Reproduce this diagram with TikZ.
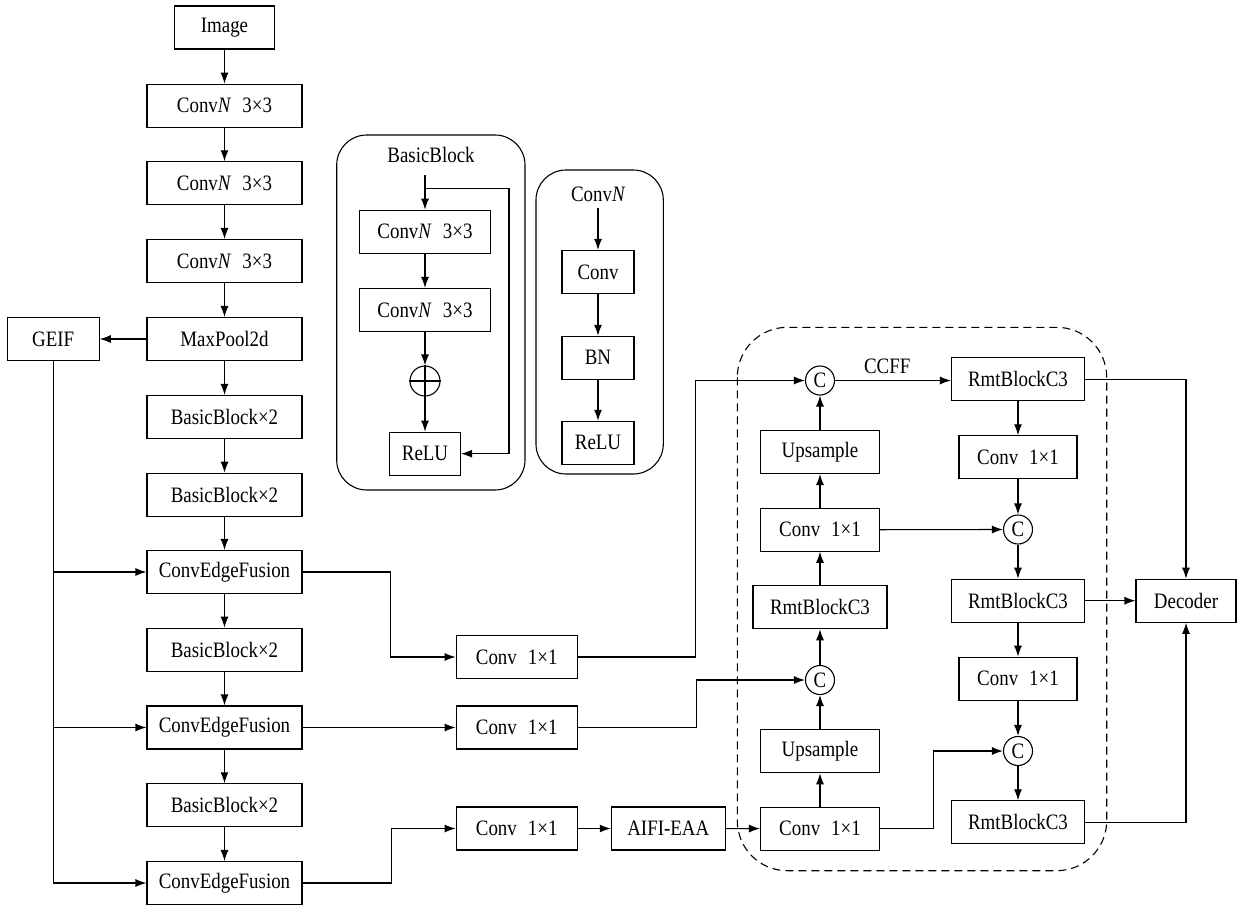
\documentclass[tikz,border=0pt]{standalone}
\usepackage{fontspec}
\setmainfont{Liberation Serif}[FakeStretch=0.86]
\usetikzlibrary{arrows.meta}
\newcommand\fsz{\fontsize{22}{26}\selectfont}
\newcommand\gap{\hspace{0.5em}}
\tikzset{
  bx/.style={draw, line width=1.1pt, inner sep=0pt, minimum height=43pt, font=\fsz},
  cc/.style={draw, circle, line width=1.1pt, minimum size=29pt, inner sep=0pt, font=\fsz},
  ar/.style={line width=1.1pt, -{Latex[length=11pt,width=8pt]}},
  ln/.style={line width=1.1pt},
  panel/.style={draw, rounded corners=30pt, line width=1.1pt},
  dsh/.style={draw, rounded corners=50pt, line width=1.1pt, dash pattern=on 8pt off 5pt},
  lbl/.style={font=\fsz, inner sep=0pt}
}
\begin{document}
\begin{tikzpicture}[x=1pt,y=-1pt]
\useasboundingbox (0,0) rectangle (1243,906);
% left column
\node[bx, minimum width=100pt] (img) at (224.5,27.5) {Image};
\node[bx, minimum width=155pt] (n1) at (224.5,105.7) {Conv\textit{N}\gap 3×3};
\node[bx, minimum width=155pt] (n2) at (224.5,183.3) {Conv\textit{N}\gap 3×3};
\node[bx, minimum width=155pt] (n3) at (224.5,261) {Conv\textit{N}\gap 3×3};
\node[bx, minimum width=155pt] (mp) at (224.5,339) {MaxPool2d};
\node[bx, minimum width=155pt] (bb1) at (224.5,417) {BasicBlock×2};
\node[bx, minimum width=155pt] (bb2) at (224.5,494.7) {BasicBlock×2};
\node[bx, minimum width=155pt] (cef1) at (224.5,572) {ConvEdgeFusion};
\node[bx, minimum width=155pt] (bb3) at (224.5,649.7) {BasicBlock×2};
\node[bx, minimum width=155pt] (cef2) at (224.5,727.5) {ConvEdgeFusion};
\node[bx, minimum width=155pt] (bb4) at (224.5,805.3) {BasicBlock×2};
\node[bx, minimum width=155pt] (cef3) at (224.5,883) {ConvEdgeFusion};
\node[bx, minimum width=92pt] (geif) at (53.2,339) {GEIF};
\foreach \a/\b in {img/n1,n1/n2,n2/n3,n3/mp,mp/bb1,bb1/bb2,bb2/cef1,cef1/bb3,bb3/cef2,cef2/bb4,bb4/cef3}
  \draw[ar] (\a) -- (\b);
\draw[ar] (mp) -- (geif);
\draw[ar] (geif.south) |- (cef3.west);
\draw[ar] (geif.south |- cef1.west) -- (cef1.west);
\draw[ar] (geif.south |- cef2.west) -- (cef2.west);
% middle conv 1x1
\node[bx, minimum width=121pt] (ca) at (516.7,657) {Conv\gap 1×1};
\node[bx, minimum width=121pt] (cb) at (516.7,727.5) {Conv\gap 1×1};
\node[bx, minimum width=121pt] (cc) at (516.7,828.5) {Conv\gap 1×1};
\node[bx, minimum width=114pt] (aifi) at (668.3,828.5) {AIFI-EAA};
\draw[ar] (cef1.east) -- ++(88,0) |- (ca.west);
\draw[ar] (cef2.east) -- (cb.west);
\draw[ar] (cef3.east) -- ++(89,0) |- (cc.west);
\draw[ar] (cc) -- (aifi);
% BasicBlock panel
\draw[panel] (336.7,135) rectangle (525,490);
\node[lbl] (bbt) at (431,155) {BasicBlock};
\coordinate (bs) at (425,175);
\coordinate (bj) at (425,188.3);
\node[bx, minimum width=131pt] (bc1) at (425,231.7) {Conv\textit{N}\gap 3×3};
\node[bx, minimum width=131pt] (bc2) at (425,310) {Conv\textit{N}\gap 3×3};
\node[draw, circle, line width=1.1pt, minimum size=30pt, inner sep=0pt] (plus) at (425,381) {};
\draw[ln] (plus.north) -- (plus.south);
\draw[ln] (plus.west) -- (plus.east);
\node[bx, minimum width=71pt] (brelu) at (425,453.7) {ReLU};
\draw[ar] (bs) -- (bc1);
\draw[ar] (bj) -- ++(84,0) |- (brelu.east);
\draw[ar] (bc1) -- (bc2);
\draw[ar] (bc2) -- (plus);
\draw[ar] (plus) -- (brelu);
% ConvN panel
\draw[panel] (536,170) rectangle (663.3,474);
\node[lbl] (cnt) at (598.3,194) {Conv\textit{N}};
\coordinate (cs) at (598,208);
\node[bx, minimum width=72pt] (pc) at (598,272) {Conv};
\node[bx, minimum width=72pt] (pbn) at (598,357.8) {BN};
\node[bx, minimum width=72pt] (prelu) at (598,442.8) {ReLU};
\draw[ar] (cs) -- (pc);
\draw[ar] (pc) -- (pbn);
\draw[ar] (pbn) -- (prelu);
% CCFF region
\draw[dsh] (737.3,327.3) rectangle (1106.7,870.7);
\node[bx, minimum width=119pt] (cbot) at (820,828.6) {Conv\gap 1×1};
\node[bx, minimum width=119pt] (ups2) at (820,751.3) {Upsample};
\node[cc] (c2) at (820,680) {C};
\node[bx, minimum width=134pt] (rmtl) at (820,607.2) {RmtBlockC3};
\node[bx, minimum width=119pt] (cmid) at (820,529.7) {Conv\gap 1×1};
\node[bx, minimum width=119pt] (ups1) at (820,452) {Upsample};
\node[cc] (c1) at (820,380.5) {C};
\node[bx, minimum width=133pt] (rmt1) at (1018,379.2) {RmtBlockC3};
\node[bx, minimum width=118pt] (cr1) at (1018,457.3) {Conv\gap 1×1};
\node[cc] (c3) at (1018,529.5) {C};
\node[bx, minimum width=133pt] (rmt2) at (1018,600.7) {RmtBlockC3};
\node[bx, minimum width=118pt] (cr2) at (1018,678.7) {Conv\gap 1×1};
\node[cc] (c4) at (1018,751) {C};
\node[bx, minimum width=133pt] (rmt3) at (1018,822.3) {RmtBlockC3};
\node[bx, minimum width=100pt] (dec) at (1186,600.7) {Decoder};
\draw[ar] (aifi) -- (cbot);
\draw[ar] (cbot) -- (ups2);
\draw[ar] (ups2) -- (c2);
\draw[ar] (c2) -- (rmtl);
\draw[ar] (rmtl) -- (cmid);
\draw[ar] (cmid) -- (ups1);
\draw[ar] (ups1) -- (c1);
\draw[ar] (ca.east) -- ++(118,0) |- (c1.west);
\draw[ar] (cb.east) -- ++(118.5,0) |- (c2.west);
\draw[ar] (c1.east) -- node[lbl, pos=0.45, above=6pt] {CCFF} (rmt1.west |- c1.east);
\draw[ar] (rmt1) -- (cr1);
\draw[ar] (cr1) -- (c3);
\draw[ar] (c3) -- (rmt2);
\draw[ar] (rmt2) -- (cr2);
\draw[ar] (cr2) -- (c4);
\draw[ar] (c4) -- (rmt3);
\draw[ar] (cmid.east) -- (c3.west);
\draw[ar] (cbot.east) -- ++(53,0) |- (c4.west);
\draw[ar] (rmt1.east) -| (dec.north);
\draw[ar] (rmt2.east) -- (dec.west);
\draw[ar] (rmt3.east) -| (dec.south);
\end{tikzpicture}
\end{document}
